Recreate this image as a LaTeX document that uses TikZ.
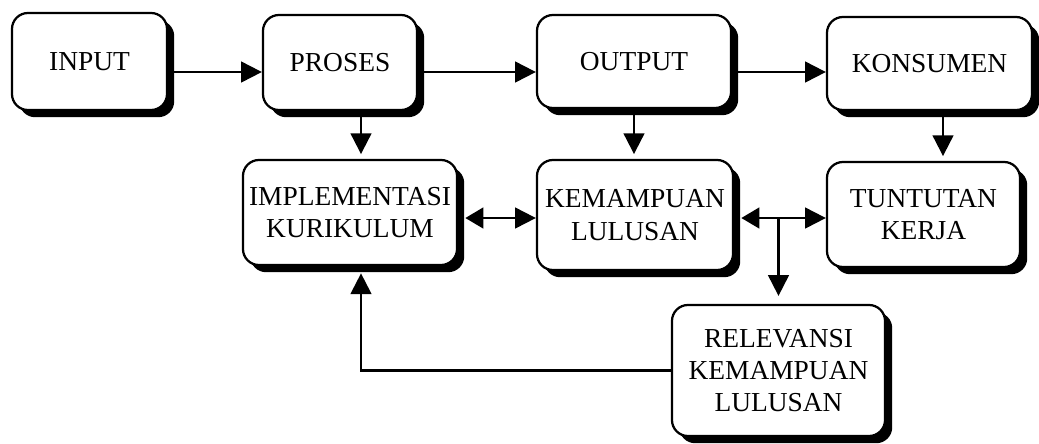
\documentclass[tikz,border=0pt]{standalone}
\usepackage{fontspec}
\setmainfont{Liberation Serif}
\usepackage{tikz}
\usetikzlibrary{arrows.meta, shadows}

\tikzset{
  kotak/.style={draw, line width=1.6pt, rounded corners=0.4cm, fill=white, align=center, inner sep=2pt,
    font=\fontsize{19.5}{23}\selectfont,
    drop shadow={shadow xshift=0.18cm, shadow yshift=-0.18cm, fill=black, opacity=1}},
  panah/.style={line width=1.5pt, -{Triangle[length=0.52cm, width=0.52cm]}},
  panahdua/.style={line width=1.5pt, {Triangle[length=0.45cm, width=0.52cm]}-{Triangle[length=0.52cm, width=0.52cm]}}
}

\begin{document}
\begin{tikzpicture}[x=0.025cm, y=-0.025cm]
            \useasboundingbox (0,0) rectangle (1039,443);
            \coordinate (baris1) at (0,72);
            \coordinate (baris2) at (0,218);
            \coordinate (kiri) at (361,0);
            \coordinate (kanan) at (943,0);
            \node [kotak, minimum width=3.875cm, minimum height=2.425cm] (input) at (89.5,61.5) {INPUT};
            \node [kotak, minimum width=3.85cm, minimum height=2.375cm] (proses) at (340,62.5) {PROSES};
            \node [kotak, minimum width=4.85cm, minimum height=2.325cm] (output) at (634,61.5) {OUTPUT};
            \node [kotak, minimum width=5.125cm, minimum height=2.325cm] (konsumen) at (929.5,63.5) {KONSUMEN};
            \node [kotak, minimum width=5.35cm, minimum height=2.625cm] (impl) at (350,212.5) {IMPLEMENTASI\\KURIKULUM};
            \node [kotak, minimum width=4.9cm, minimum height=2.75cm] (kemampuan) at (635,215) {KEMAMPUAN\\LULUSAN};
            \node [kotak, minimum width=4.825cm, minimum height=2.625cm] (tuntutan) at (923.5,214.5) {TUNTUTAN\\KERJA};
            \node [kotak, minimum width=5.325cm, minimum height=3.275cm] (relevansi) at (778.5,370.5) {RELEVANSI\\KEMAMPUAN\\LULUSAN};
            \draw [panah] (input.east |- baris1) -- (proses.west |- baris1);
            \draw [panah] (proses.east |- baris1) -- (output.west |- baris1);
            \draw [panah] (output.east |- baris1) -- (konsumen.west |- baris1);
            \draw [panah, shorten >=0.12cm] (proses.south -| kiri) -- (impl.north -| kiri);
            \draw [panah, shorten >=0.12cm] (output.south) -- (kemampuan.north -| output.south);
            \draw [panah, shorten >=0.12cm] (konsumen.south -| kanan) -- (tuntutan.north -| kanan);
            \draw [panahdua, shorten <=0.18cm] (impl.east |- baris2) -- (kemampuan.west |- baris2);
            \draw [panahdua, shorten <=0.18cm] (kemampuan.east |- baris2) -- (tuntutan.west |- baris2);
            \draw [panah, shorten >=0.2cm] (relevansi.north |- baris2) -- (relevansi.north);
            \draw [panah, shorten >=0.18cm] (relevansi.west) -| (impl.south -| kiri);
        \end{tikzpicture}
\end{document}
